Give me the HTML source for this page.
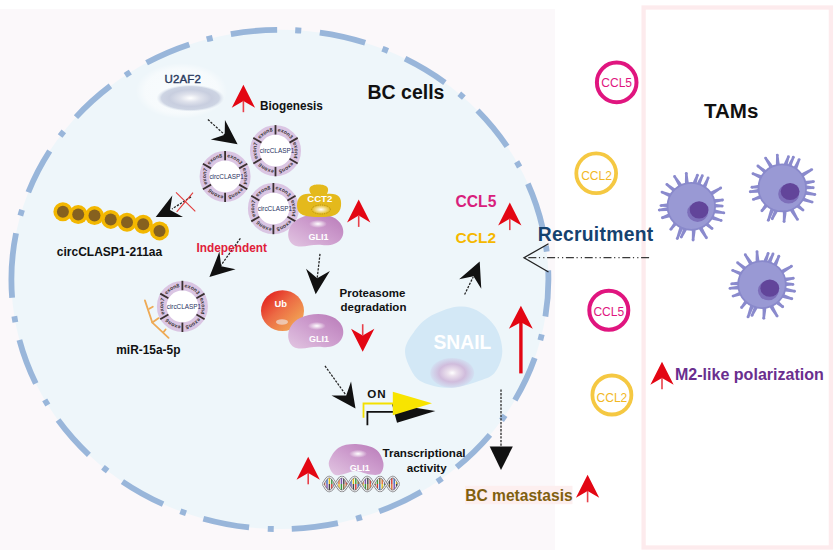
<!DOCTYPE html>
<html><head><meta charset="utf-8">
<style>
html,body{margin:0;padding:0;background:#fff;width:837px;height:557px;overflow:hidden}
svg{position:absolute;left:0;top:0;display:block}
text{font-family:"Liberation Sans",sans-serif}
.b{font-weight:bold}
</style></head><body>
<svg width="837" height="557" viewBox="0 0 837 557">
<defs>
  <g id="ra">
    <path d="M0,0 L11.65,23 L0,16.2 L-11.65,23 Z" fill="#e30613"/>
    <line x1="0" y1="16" x2="0" y2="27.5" stroke="#e8404a" stroke-width="1.6"/>
  </g>
  <path id="ba" d="M0,0 L-24.5,-12 L-16,0 L-24.5,12 Z" fill="#111"/>
  <radialGradient id="glowW" cx="50%" cy="50%" r="50%">
    <stop offset="0" stop-color="#fff"/>
    <stop offset="0.3" stop-color="#dfe2ec"/>
    <stop offset="0.62" stop-color="#c8cedf"/>
    <stop offset="0.85" stop-color="#cdd4e3"/>
    <stop offset="1" stop-color="#dde5ef" stop-opacity="0"/>
  </radialGradient>
  <path id="rp" d="M-16.45,9.50 A19.0,19.0 0 1 1 16.45,-9.50 A19.0,19.0 0 1 1 -16.45,9.50"/>
  <g id="ring">
    <circle r="20.7" fill="#fff" stroke="#dac5e3" stroke-width="9.6"/>
    <g stroke="#3a3030" stroke-width="1.8"><line x1="-0.00" y1="-16.20" x2="-0.00" y2="-25.60"/><line x1="14.03" y1="-8.10" x2="22.17" y2="-12.80"/><line x1="14.03" y1="8.10" x2="22.17" y2="12.80"/><line x1="0.00" y1="16.20" x2="0.00" y2="25.60"/><line x1="-14.03" y1="8.10" x2="-22.17" y2="12.80"/><line x1="-14.03" y1="-8.10" x2="-22.17" y2="-12.80"/></g>
    <text font-size="5.3" fill="#3a3436" text-anchor="middle" font-weight="bold"><textPath href="#rp" startOffset="9.95">exon7</textPath><textPath href="#rp" startOffset="29.85">exon8</textPath><textPath href="#rp" startOffset="49.74">exon3</textPath><textPath href="#rp" startOffset="69.64">exon4</textPath><textPath href="#rp" startOffset="89.54">exon5</textPath><textPath href="#rp" startOffset="109.43">exon6</textPath></text>
    <text x="1.5" y="2.3" font-size="6.4" fill="#283060" text-anchor="middle">circCLASP1</text>
  </g>
  <linearGradient id="ubg" x1="0" y1="0" x2="1" y2="1">
    <stop offset="0.1" stop-color="#e3221e"/><stop offset="0.45" stop-color="#ec6a44"/><stop offset="0.75" stop-color="#f09650"/><stop offset="1" stop-color="#f3b46a"/>
  </linearGradient>
  <linearGradient id="glig" x1="0" y1="1" x2="1" y2="0">
    <stop offset="0" stop-color="#e2c6e2"/><stop offset="0.55" stop-color="#cc9acc"/><stop offset="1" stop-color="#b87ab8"/>
  </linearGradient>
  <radialGradient id="hl" cx="50%" cy="50%" r="50%">
    <stop offset="0" stop-color="#fff" stop-opacity="1"/><stop offset="1" stop-color="#fff" stop-opacity="0"/>
  </radialGradient>
  <radialGradient id="nuc" cx="50%" cy="50%" r="50%">
    <stop offset="0" stop-color="#fff"/><stop offset="0.2" stop-color="#ece2ee"/><stop offset="0.6" stop-color="#d0bcdc"/><stop offset="1" stop-color="#d0bedf" stop-opacity="0.2"/>
  </radialGradient>
  <radialGradient id="halo" cx="50%" cy="50%" r="50%">
    <stop offset="0" stop-color="#fff" stop-opacity="0.65"/><stop offset="0.8" stop-color="#fff" stop-opacity="0.5"/><stop offset="1" stop-color="#fff" stop-opacity="0"/>
  </radialGradient>
  <g id="mac">
    <g fill="#8a8acd"><path d="M19.1,1.7 L25.0,1.3 L30.9,1.0 L30.9,-1.5 L24.9,-2.3 L18.9,-2.9 Z"/><circle cx="30.9" cy="-0.2" r="1.45"/><path d="M18.0,6.4 L25.2,7.2 L32.3,7.8 L32.8,5.4 L25.9,3.7 L19.0,1.9 Z"/><circle cx="32.5" cy="6.6" r="1.45"/><path d="M15.4,11.4 L22.2,13.6 L29.3,15.3 L30.4,13.1 L23.9,10.5 L17.6,7.4 Z"/><circle cx="29.8" cy="14.2" r="1.45"/><path d="M10.2,16.2 L14.9,19.8 L19.8,23.1 L21.7,21.4 L17.6,17.4 L13.8,13.3 Z"/><circle cx="20.7" cy="22.2" r="1.45"/><path d="M5.1,18.5 L9.3,25.4 L14.0,32.1 L16.3,31.0 L12.6,23.9 L9.3,16.7 Z"/><circle cx="15.1" cy="31.5" r="1.45"/><path d="M0.1,19.1 L0.6,26.4 L0.5,33.8 L3.0,33.7 L4.1,26.1 L4.6,18.6 Z"/><circle cx="1.8" cy="33.7" r="1.45"/><path d="M-6.7,17.9 L-8.7,24.2 L-11.2,30.4 L-8.8,31.2 L-5.3,25.2 L-2.2,19.0 Z"/><circle cx="-10.0" cy="30.8" r="1.45"/><path d="M-10.2,16.2 L-12.8,23.9 L-15.1,31.8 L-12.8,32.8 L-9.6,25.4 L-6.0,18.2 Z"/><circle cx="-14.0" cy="32.3" r="1.45"/><path d="M-14.7,12.2 L-18.1,17.1 L-21.4,22.1 L-19.5,23.8 L-15.5,19.5 L-11.4,15.4 Z"/><circle cx="-20.4" cy="22.9" r="1.45"/><path d="M-18.4,5.1 L-23.9,7.8 L-29.3,10.3 L-28.4,12.7 L-22.5,11.1 L-16.7,9.4 Z"/><circle cx="-28.9" cy="11.5" r="1.45"/><path d="M-19.1,0.1 L-25.6,1.3 L-32.2,2.5 L-31.9,5.0 L-25.2,4.8 L-18.6,4.6 Z"/><circle cx="-32.0" cy="3.8" r="1.45"/><path d="M-18.8,-3.6 L-24.6,-2.9 L-30.3,-2.0 L-30.4,0.5 L-24.7,0.6 L-19.1,0.9 Z"/><circle cx="-30.3" cy="-0.7" r="1.45"/><path d="M-15.8,-10.8 L-22.2,-13.2 L-28.8,-15.3 L-29.8,-13.1 L-23.8,-10.0 L-17.9,-6.8 Z"/><circle cx="-29.3" cy="-14.2" r="1.45"/><path d="M-12.1,-14.8 L-17.8,-18.9 L-23.5,-22.8 L-25.2,-20.9 L-20.2,-16.3 L-15.3,-11.5 Z"/><circle cx="-24.4" cy="-21.9" r="1.45"/><path d="M-6.6,-18.0 L-11.0,-24.3 L-15.6,-30.4 L-17.8,-29.2 L-14.1,-22.6 L-10.7,-15.9 Z"/><circle cx="-16.7" cy="-29.8" r="1.45"/><path d="M-1.7,-19.1 L-2.9,-26.0 L-3.8,-33.0 L-6.2,-32.6 L-6.4,-25.3 L-6.2,-18.1 Z"/><circle cx="-5.0" cy="-32.8" r="1.45"/><path d="M4.5,-18.6 L5.7,-24.8 L7.3,-30.9 L4.9,-31.4 L2.1,-25.3 L-0.1,-19.1 Z"/><circle cx="6.1" cy="-31.1" r="1.45"/><path d="M7.9,-17.4 L9.9,-23.8 L12.2,-30.2 L9.9,-31.0 L6.6,-25.0 L3.5,-18.8 Z"/><circle cx="11.0" cy="-30.6" r="1.45"/><path d="M12.8,-14.2 L15.6,-20.8 L17.9,-27.7 L15.8,-28.9 L12.6,-22.8 L9.0,-16.9 Z"/><circle cx="16.8" cy="-28.3" r="1.45"/><path d="M17.3,-8.3 L23.6,-12.8 L30.0,-17.2 L28.7,-19.3 L21.7,-15.8 L14.8,-12.2 Z"/><circle cx="29.4" cy="-18.3" r="1.45"/><path d="M19.0,-2.1 L25.2,-3.7 L31.5,-5.1 L31.0,-7.6 L24.5,-7.2 L18.0,-6.6 Z"/><circle cx="31.2" cy="-6.3" r="1.45"/></g>
    <ellipse rx="23.8" ry="23.5" fill="#9999d4" stroke="#8989cb" stroke-width="1.8"/>
    <ellipse cx="6.3" cy="6" rx="10.4" ry="9.6" fill="#7d6fba"/>
    <ellipse cx="7.8" cy="3.6" rx="9.4" ry="8.6" fill="#62459a"/>
  </g>
</defs>

<!-- panel -->
<rect x="0" y="9" width="555" height="541" fill="#fbf8fa"/>
<!-- big cell -->
<path d="M11.4,279.46 A268.5,249.6 0 0 1 548.4,279.46 A268.5,249.6 0 0 1 11.4,279.46 Z" fill="#eef6fa" stroke="#99b6da" stroke-width="5.8" stroke-dasharray="46.5 18.2 6 18.7"/>

<!-- TAMs box -->
<rect x="643.6" y="7.5" width="187.3" height="540" fill="none" stroke="#fdebed" stroke-width="4.3"/>

<use href="#ring" x="275.5" y="150.7"/>
<use href="#ring" x="225.1" y="176.5"/>
<use href="#ring" x="273.4" y="208.6"/>
<use href="#ring" x="182.4" y="306.4"/>
<circle cx="62.9" cy="211.8" r="9.5" fill="#f3b700"/><circle cx="62.9" cy="211.8" r="6" fill="#86611f"/>
<circle cx="78.2" cy="214.6" r="9.5" fill="#f3b700"/><circle cx="78.2" cy="214.6" r="6" fill="#86611f"/>
<circle cx="94.5" cy="215.6" r="9.5" fill="#f3b700"/><circle cx="94.5" cy="215.6" r="6" fill="#86611f"/>
<circle cx="110.7" cy="219.4" r="9.5" fill="#f3b700"/><circle cx="110.7" cy="219.4" r="6" fill="#86611f"/>
<circle cx="127.0" cy="222.3" r="9.5" fill="#f3b700"/><circle cx="127.0" cy="222.3" r="6" fill="#86611f"/>
<circle cx="143.2" cy="224.2" r="9.5" fill="#f3b700"/><circle cx="143.2" cy="224.2" r="6" fill="#86611f"/>
<circle cx="159.5" cy="230.9" r="9.5" fill="#f3b700"/><circle cx="159.5" cy="230.9" r="6" fill="#86611f"/>
<line x1="207.9" y1="119.5" x2="225.2" y2="135.2" stroke="#222" stroke-width="1.25" stroke-dasharray="2.3 1.3"/><use href="#ba" transform="translate(237.6 144.3) rotate(36.3)"/>
<line x1="191.0" y1="196.9" x2="172.0" y2="209.0" stroke="#222" stroke-width="1.25" stroke-dasharray="2.3 1.3"/><use href="#ba" transform="translate(155.7 217.1) rotate(153.6)"/>
<line x1="240.4" y1="238.3" x2="218.6" y2="268.6" stroke="#222" stroke-width="1.25" stroke-dasharray="2.3 1.3"/><use href="#ba" transform="translate(209.4 277.0) rotate(137.6)"/>
<line x1="320.0" y1="253.9" x2="317.2" y2="278.0" stroke="#222" stroke-width="1.25" stroke-dasharray="2.3 1.3"/><use href="#ba" transform="translate(315.7 294.2) rotate(95.3)"/>
<line x1="325.0" y1="365.9" x2="346.0" y2="395.2" stroke="#222" stroke-width="1.25" stroke-dasharray="2.3 1.3"/><use href="#ba" transform="translate(355.5 408.5) rotate(54.5)"/>
<line x1="464.6" y1="294.6" x2="473.2" y2="276.9" stroke="#222" stroke-width="1.25" stroke-dasharray="2.3 1.3"/><use href="#ba" transform="translate(479.7 261.4) rotate(-67.2)"/>
<line x1="501" y1="389.5" x2="501" y2="447" stroke="#222" stroke-width="1.25" stroke-dasharray="2.3 1.3"/><path d="M489.7,446.6 L512.8,446.6 L501,470 Z" fill="#111"/>
<g stroke="#e23a3a" stroke-width="1.1"><line x1="176" y1="192.3" x2="195.3" y2="211.4"/><line x1="193" y1="192.6" x2="176.7" y2="211.8"/></g>
<g stroke="#eeaa55" stroke-width="1.8" fill="none" stroke-linecap="round"><polyline points="144.9,300.4 152.3,322.6 168.6,337.9"/><line x1="149.3" y1="308.8" x2="152.8" y2="306.8"/><line x1="152.3" y1="322.6" x2="158.7" y2="318.1"/><line x1="163.6" y1="332" x2="165.6" y2="329.5"/></g>
<use href="#ra" x="358.7" y="199.4"/>
<use href="#ra" transform="translate(362.7 351.7) rotate(180)"/>
<use href="#ra" x="308.2" y="456.8"/>
<path d="M520.9,305.8 L532.8,328.8 L520.9,322.3 L508.9,328.8 Z" fill="#e30613"/><line x1="520.9" y1="322" x2="520.9" y2="373.4" stroke="#e30613" stroke-width="3.4"/>
<path d="M367.4,425.3 V411.9 H396" fill="none" stroke="#111" stroke-width="1.8"/><path d="M392,404 L435.4,411 L397,422.7 Z" fill="#111"/>
<path d="M363.5,417.7 V403.5 H394" fill="none" stroke="#f3e000" stroke-width="1.8"/><path d="M392.8,391.8 L432,403.2 L392.8,415.2 Z" fill="#f8e400"/>
<ellipse cx="181.5" cy="91" rx="46" ry="28" fill="url(#halo)"/>
<ellipse cx="282.5" cy="310.7" rx="21.5" ry="20.4" fill="url(#ubg)"/><ellipse cx="282" cy="322" rx="6" ry="2.7" fill="#eee0d8" opacity="0.7"/>
<text class="b" x="280.7" y="306.6" font-size="9.4" fill="#fff" text-anchor="middle">Ub</text>
<path d="M300,318 C315,311 336,313 342,326 C347,338 337,349 322,347 C311,346 305,350 296,348 C286,345 284,326 300,318 Z" fill="url(#glig)"/><ellipse cx="316.8" cy="325.9" rx="9" ry="4" fill="url(#hl)"/>
<text class="b" x="319" y="342.2" font-size="9" fill="#fff" text-anchor="middle">GLI1</text>
<path d="M300,218 C315,211 336,213 342,226 C347,238 337,247 322,245 C311,244 305,248 296,246 C286,243 284,226 300,218 Z" fill="url(#glig)"/><ellipse cx="318" cy="223.9" rx="9" ry="4" fill="url(#hl)"/>
<text class="b" x="318.4" y="240.4" font-size="9" fill="#fff" text-anchor="middle">GLI1</text>
<path d="M311,194 C306,186 314,184.5 318,184.5 C324,184.5 331,186 327,194 C338,193 342,197 341,206 C340,215 333,217 320,217 C305,217 297,215 297,206 C297,197 302,193 311,194 Z" fill="#e4b91c"/>
<ellipse cx="321" cy="209.5" rx="9.3" ry="4.5" fill="url(#hl)" stroke="#9a7a10" stroke-width="0.7" stroke-dasharray="0.8 1"/>
<text class="b" x="319.8" y="202.3" font-size="9.6" fill="#fff" text-anchor="middle">CCT2</text>
<path d="M356.0,444.1 C362.2,444.4 371.1,446.1 375.6,449.2 C380.2,452.3 382.5,458.6 383.3,462.6 C384.1,466.7 382.7,471.5 380.5,473.5 C378.3,475.5 374.1,474.9 370.0,474.5 C365.9,474.1 360.3,471.1 356.0,471.0 C351.7,470.9 347.4,473.3 344.0,474.0 C340.6,474.7 337.8,475.8 335.5,475.0 C333.2,474.2 331.3,471.9 330.3,469.5 C329.3,467.1 327.9,464.2 329.3,460.6 C330.7,457.0 334.2,450.4 338.6,447.7 C343.1,444.9 349.8,443.9 356.0,444.1 Z" fill="url(#glig)"/><ellipse cx="358.1" cy="453.8" rx="9" ry="4" fill="url(#hl)"/>
<text class="b" x="359.7" y="470.9" font-size="9" fill="#fff" text-anchor="middle">GLI1</text>
<g><line x1="324.6" y1="481.3" x2="324.6" y2="484.0" stroke="#d83a30" stroke-width="1.4"/><line x1="324.6" y1="484.0" x2="324.6" y2="486.7" stroke="#e07030" stroke-width="1.4"/><line x1="327.0" y1="478.1" x2="327.0" y2="484.0" stroke="#3a6cc0" stroke-width="1.4"/><line x1="327.0" y1="484.0" x2="327.0" y2="489.9" stroke="#8050b0" stroke-width="1.4"/><line x1="329.4" y1="477.0" x2="329.4" y2="484.0" stroke="#e8c020" stroke-width="1.4"/><line x1="329.4" y1="484.0" x2="329.4" y2="491.0" stroke="#444" stroke-width="1.4"/><line x1="331.8" y1="478.3" x2="331.8" y2="484.0" stroke="#3a9a40" stroke-width="1.4"/><line x1="331.8" y1="484.0" x2="331.8" y2="489.7" stroke="#d83a30" stroke-width="1.4"/><line x1="334.2" y1="481.5" x2="334.2" y2="484.0" stroke="#8a6a30" stroke-width="1.4"/><line x1="334.2" y1="484.0" x2="334.2" y2="486.5" stroke="#3a6cc0" stroke-width="1.4"/><line x1="339.0" y1="478.8" x2="339.0" y2="484.0" stroke="#e07030" stroke-width="1.4"/><line x1="339.0" y1="484.0" x2="339.0" y2="489.2" stroke="#e8c020" stroke-width="1.4"/><line x1="341.4" y1="477.1" x2="341.4" y2="484.0" stroke="#8050b0" stroke-width="1.4"/><line x1="341.4" y1="484.0" x2="341.4" y2="490.9" stroke="#3a9a40" stroke-width="1.4"/><line x1="343.8" y1="477.7" x2="343.8" y2="484.0" stroke="#444" stroke-width="1.4"/><line x1="343.8" y1="484.0" x2="343.8" y2="490.3" stroke="#8a6a30" stroke-width="1.4"/><line x1="346.2" y1="480.5" x2="346.2" y2="484.0" stroke="#d83a30" stroke-width="1.4"/><line x1="346.2" y1="484.0" x2="346.2" y2="487.5" stroke="#e07030" stroke-width="1.4"/><line x1="351.0" y1="479.7" x2="351.0" y2="484.0" stroke="#3a6cc0" stroke-width="1.4"/><line x1="351.0" y1="484.0" x2="351.0" y2="488.3" stroke="#8050b0" stroke-width="1.4"/><line x1="353.4" y1="477.3" x2="353.4" y2="484.0" stroke="#e8c020" stroke-width="1.4"/><line x1="353.4" y1="484.0" x2="353.4" y2="490.7" stroke="#444" stroke-width="1.4"/><line x1="355.8" y1="477.3" x2="355.8" y2="484.0" stroke="#3a9a40" stroke-width="1.4"/><line x1="355.8" y1="484.0" x2="355.8" y2="490.7" stroke="#d83a30" stroke-width="1.4"/><line x1="358.2" y1="479.5" x2="358.2" y2="484.0" stroke="#8a6a30" stroke-width="1.4"/><line x1="358.2" y1="484.0" x2="358.2" y2="488.5" stroke="#3a6cc0" stroke-width="1.4"/><line x1="363.0" y1="480.7" x2="363.0" y2="484.0" stroke="#e07030" stroke-width="1.4"/><line x1="363.0" y1="484.0" x2="363.0" y2="487.3" stroke="#e8c020" stroke-width="1.4"/><line x1="365.4" y1="477.8" x2="365.4" y2="484.0" stroke="#8050b0" stroke-width="1.4"/><line x1="365.4" y1="484.0" x2="365.4" y2="490.2" stroke="#3a9a40" stroke-width="1.4"/><line x1="367.8" y1="477.0" x2="367.8" y2="484.0" stroke="#444" stroke-width="1.4"/><line x1="367.8" y1="484.0" x2="367.8" y2="491.0" stroke="#8a6a30" stroke-width="1.4"/><line x1="370.2" y1="478.7" x2="370.2" y2="484.0" stroke="#d83a30" stroke-width="1.4"/><line x1="370.2" y1="484.0" x2="370.2" y2="489.3" stroke="#e07030" stroke-width="1.4"/><line x1="372.6" y1="482.2" x2="372.6" y2="484.0" stroke="#3a6cc0" stroke-width="1.4"/><line x1="372.6" y1="484.0" x2="372.6" y2="485.8" stroke="#8050b0" stroke-width="1.4"/><line x1="375.0" y1="481.7" x2="375.0" y2="484.0" stroke="#e8c020" stroke-width="1.4"/><line x1="375.0" y1="484.0" x2="375.0" y2="486.3" stroke="#444" stroke-width="1.4"/><line x1="377.4" y1="478.4" x2="377.4" y2="484.0" stroke="#3a9a40" stroke-width="1.4"/><line x1="377.4" y1="484.0" x2="377.4" y2="489.6" stroke="#d83a30" stroke-width="1.4"/><line x1="379.8" y1="477.0" x2="379.8" y2="484.0" stroke="#8a6a30" stroke-width="1.4"/><line x1="379.8" y1="484.0" x2="379.8" y2="491.0" stroke="#3a6cc0" stroke-width="1.4"/><line x1="382.2" y1="478.0" x2="382.2" y2="484.0" stroke="#e07030" stroke-width="1.4"/><line x1="382.2" y1="484.0" x2="382.2" y2="490.0" stroke="#e8c020" stroke-width="1.4"/><line x1="384.6" y1="481.1" x2="384.6" y2="484.0" stroke="#8050b0" stroke-width="1.4"/><line x1="384.6" y1="484.0" x2="384.6" y2="486.9" stroke="#3a9a40" stroke-width="1.4"/><line x1="389.4" y1="479.2" x2="389.4" y2="484.0" stroke="#444" stroke-width="1.4"/><line x1="389.4" y1="484.0" x2="389.4" y2="488.8" stroke="#8a6a30" stroke-width="1.4"/><line x1="391.8" y1="477.2" x2="391.8" y2="484.0" stroke="#d83a30" stroke-width="1.4"/><line x1="391.8" y1="484.0" x2="391.8" y2="490.8" stroke="#e07030" stroke-width="1.4"/><line x1="394.2" y1="477.5" x2="394.2" y2="484.0" stroke="#3a6cc0" stroke-width="1.4"/><line x1="394.2" y1="484.0" x2="394.2" y2="490.5" stroke="#8050b0" stroke-width="1.4"/><line x1="396.6" y1="480.1" x2="396.6" y2="484.0" stroke="#e8c020" stroke-width="1.4"/><line x1="396.6" y1="484.0" x2="396.6" y2="487.9" stroke="#444" stroke-width="1.4"/><path d="M323.0,484.0 323.5,484.9 324.0,485.7 324.5,486.5 325.0,487.3 325.5,488.1 326.0,488.7 326.5,489.3 327.0,489.9 327.5,490.3 328.0,490.6 328.5,490.9 329.0,491.0 329.5,491.0 330.0,490.9 330.5,490.7 331.0,490.4 331.5,490.0 332.0,489.5 332.5,488.9 333.0,488.3 333.5,487.6 334.0,486.8 334.5,486.0 335.0,485.2 335.5,484.3 336.0,483.4 336.5,482.6 337.0,481.7 337.5,480.9 338.0,480.2 338.5,479.5 339.0,478.8 339.5,478.3 340.0,477.8 340.5,477.5 341.0,477.2 341.5,477.1 342.0,477.0 342.5,477.1 343.0,477.2 343.5,477.5 344.0,477.8 344.5,478.3 345.0,478.8 345.5,479.5 346.0,480.2 346.5,480.9 347.0,481.7 347.5,482.6 348.0,483.4 348.5,484.3 349.0,485.2 349.5,486.0 350.0,486.8 350.5,487.6 351.0,488.3 351.5,488.9 352.0,489.5 352.5,490.0 353.0,490.4 353.5,490.7 354.0,490.9 354.5,491.0 355.0,491.0 355.5,490.9 356.0,490.6 356.5,490.3 357.0,489.9 357.5,489.3 358.0,488.7 358.5,488.1 359.0,487.3 359.5,486.5 360.0,485.7 360.5,484.9 361.0,484.0 361.5,483.1 362.0,482.3 362.5,481.5 363.0,480.7 363.5,479.9 364.0,479.3 364.5,478.7 365.0,478.1 365.5,477.7 366.0,477.4 366.5,477.1 367.0,477.0 367.5,477.0 368.0,477.1 368.5,477.3 369.0,477.6 369.5,478.0 370.0,478.5 370.5,479.1 371.0,479.7 371.5,480.4 372.0,481.2 372.5,482.0 373.0,482.8 373.5,483.7 374.0,484.6 374.5,485.4 375.0,486.3 375.5,487.1 376.0,487.8 376.5,488.5 377.0,489.2 377.5,489.7 378.0,490.2 378.5,490.5 379.0,490.8 379.5,490.9 380.0,491.0 380.5,490.9 381.0,490.8 381.5,490.5 382.0,490.2 382.5,489.7 383.0,489.2 383.5,488.5 384.0,487.8 384.5,487.1 385.0,486.3 385.5,485.4 386.0,484.6 386.5,483.7 387.0,482.8 387.5,482.0 388.0,481.2 388.5,480.4 389.0,479.7 389.5,479.1 390.0,478.5 390.5,478.0 391.0,477.6 391.5,477.3 392.0,477.1 392.5,477.0 393.0,477.0 393.5,477.1 394.0,477.4 394.5,477.7 395.0,478.1 395.5,478.7 396.0,479.3 396.5,479.9 397.0,480.7 397.5,481.5 398.0,482.3 398.5,483.1 399.0,484.0" fill="none" stroke="#707074" stroke-width="2.3"/><path d="M323.0,484.0 323.5,484.9 324.0,485.7 324.5,486.5 325.0,487.3 325.5,488.1 326.0,488.7 326.5,489.3 327.0,489.9 327.5,490.3 328.0,490.6 328.5,490.9 329.0,491.0 329.5,491.0 330.0,490.9 330.5,490.7 331.0,490.4 331.5,490.0 332.0,489.5 332.5,488.9 333.0,488.3 333.5,487.6 334.0,486.8 334.5,486.0 335.0,485.2 335.5,484.3 336.0,483.4 336.5,482.6 337.0,481.7 337.5,480.9 338.0,480.2 338.5,479.5 339.0,478.8 339.5,478.3 340.0,477.8 340.5,477.5 341.0,477.2 341.5,477.1 342.0,477.0 342.5,477.1 343.0,477.2 343.5,477.5 344.0,477.8 344.5,478.3 345.0,478.8 345.5,479.5 346.0,480.2 346.5,480.9 347.0,481.7 347.5,482.6 348.0,483.4 348.5,484.3 349.0,485.2 349.5,486.0 350.0,486.8 350.5,487.6 351.0,488.3 351.5,488.9 352.0,489.5 352.5,490.0 353.0,490.4 353.5,490.7 354.0,490.9 354.5,491.0 355.0,491.0 355.5,490.9 356.0,490.6 356.5,490.3 357.0,489.9 357.5,489.3 358.0,488.7 358.5,488.1 359.0,487.3 359.5,486.5 360.0,485.7 360.5,484.9 361.0,484.0 361.5,483.1 362.0,482.3 362.5,481.5 363.0,480.7 363.5,479.9 364.0,479.3 364.5,478.7 365.0,478.1 365.5,477.7 366.0,477.4 366.5,477.1 367.0,477.0 367.5,477.0 368.0,477.1 368.5,477.3 369.0,477.6 369.5,478.0 370.0,478.5 370.5,479.1 371.0,479.7 371.5,480.4 372.0,481.2 372.5,482.0 373.0,482.8 373.5,483.7 374.0,484.6 374.5,485.4 375.0,486.3 375.5,487.1 376.0,487.8 376.5,488.5 377.0,489.2 377.5,489.7 378.0,490.2 378.5,490.5 379.0,490.8 379.5,490.9 380.0,491.0 380.5,490.9 381.0,490.8 381.5,490.5 382.0,490.2 382.5,489.7 383.0,489.2 383.5,488.5 384.0,487.8 384.5,487.1 385.0,486.3 385.5,485.4 386.0,484.6 386.5,483.7 387.0,482.8 387.5,482.0 388.0,481.2 388.5,480.4 389.0,479.7 389.5,479.1 390.0,478.5 390.5,478.0 391.0,477.6 391.5,477.3 392.0,477.1 392.5,477.0 393.0,477.0 393.5,477.1 394.0,477.4 394.5,477.7 395.0,478.1 395.5,478.7 396.0,479.3 396.5,479.9 397.0,480.7 397.5,481.5 398.0,482.3 398.5,483.1 399.0,484.0" fill="none" stroke="#f6f6f8" stroke-width="1.1"/><path d="M323.0,484.0 323.5,483.1 324.0,482.3 324.5,481.5 325.0,480.7 325.5,479.9 326.0,479.3 326.5,478.7 327.0,478.1 327.5,477.7 328.0,477.4 328.5,477.1 329.0,477.0 329.5,477.0 330.0,477.1 330.5,477.3 331.0,477.6 331.5,478.0 332.0,478.5 332.5,479.1 333.0,479.7 333.5,480.4 334.0,481.2 334.5,482.0 335.0,482.8 335.5,483.7 336.0,484.6 336.5,485.4 337.0,486.3 337.5,487.1 338.0,487.8 338.5,488.5 339.0,489.2 339.5,489.7 340.0,490.2 340.5,490.5 341.0,490.8 341.5,490.9 342.0,491.0 342.5,490.9 343.0,490.8 343.5,490.5 344.0,490.2 344.5,489.7 345.0,489.2 345.5,488.5 346.0,487.8 346.5,487.1 347.0,486.3 347.5,485.4 348.0,484.6 348.5,483.7 349.0,482.8 349.5,482.0 350.0,481.2 350.5,480.4 351.0,479.7 351.5,479.1 352.0,478.5 352.5,478.0 353.0,477.6 353.5,477.3 354.0,477.1 354.5,477.0 355.0,477.0 355.5,477.1 356.0,477.4 356.5,477.7 357.0,478.1 357.5,478.7 358.0,479.3 358.5,479.9 359.0,480.7 359.5,481.5 360.0,482.3 360.5,483.1 361.0,484.0 361.5,484.9 362.0,485.7 362.5,486.5 363.0,487.3 363.5,488.1 364.0,488.7 364.5,489.3 365.0,489.9 365.5,490.3 366.0,490.6 366.5,490.9 367.0,491.0 367.5,491.0 368.0,490.9 368.5,490.7 369.0,490.4 369.5,490.0 370.0,489.5 370.5,488.9 371.0,488.3 371.5,487.6 372.0,486.8 372.5,486.0 373.0,485.2 373.5,484.3 374.0,483.4 374.5,482.6 375.0,481.7 375.5,480.9 376.0,480.2 376.5,479.5 377.0,478.8 377.5,478.3 378.0,477.8 378.5,477.5 379.0,477.2 379.5,477.1 380.0,477.0 380.5,477.1 381.0,477.2 381.5,477.5 382.0,477.8 382.5,478.3 383.0,478.8 383.5,479.5 384.0,480.2 384.5,480.9 385.0,481.7 385.5,482.6 386.0,483.4 386.5,484.3 387.0,485.2 387.5,486.0 388.0,486.8 388.5,487.6 389.0,488.3 389.5,488.9 390.0,489.5 390.5,490.0 391.0,490.4 391.5,490.7 392.0,490.9 392.5,491.0 393.0,491.0 393.5,490.9 394.0,490.6 394.5,490.3 395.0,489.9 395.5,489.3 396.0,488.7 396.5,488.1 397.0,487.3 397.5,486.5 398.0,485.7 398.5,484.9 399.0,484.0" fill="none" stroke="#707074" stroke-width="2.3"/><path d="M323.0,484.0 323.5,483.1 324.0,482.3 324.5,481.5 325.0,480.7 325.5,479.9 326.0,479.3 326.5,478.7 327.0,478.1 327.5,477.7 328.0,477.4 328.5,477.1 329.0,477.0 329.5,477.0 330.0,477.1 330.5,477.3 331.0,477.6 331.5,478.0 332.0,478.5 332.5,479.1 333.0,479.7 333.5,480.4 334.0,481.2 334.5,482.0 335.0,482.8 335.5,483.7 336.0,484.6 336.5,485.4 337.0,486.3 337.5,487.1 338.0,487.8 338.5,488.5 339.0,489.2 339.5,489.7 340.0,490.2 340.5,490.5 341.0,490.8 341.5,490.9 342.0,491.0 342.5,490.9 343.0,490.8 343.5,490.5 344.0,490.2 344.5,489.7 345.0,489.2 345.5,488.5 346.0,487.8 346.5,487.1 347.0,486.3 347.5,485.4 348.0,484.6 348.5,483.7 349.0,482.8 349.5,482.0 350.0,481.2 350.5,480.4 351.0,479.7 351.5,479.1 352.0,478.5 352.5,478.0 353.0,477.6 353.5,477.3 354.0,477.1 354.5,477.0 355.0,477.0 355.5,477.1 356.0,477.4 356.5,477.7 357.0,478.1 357.5,478.7 358.0,479.3 358.5,479.9 359.0,480.7 359.5,481.5 360.0,482.3 360.5,483.1 361.0,484.0 361.5,484.9 362.0,485.7 362.5,486.5 363.0,487.3 363.5,488.1 364.0,488.7 364.5,489.3 365.0,489.9 365.5,490.3 366.0,490.6 366.5,490.9 367.0,491.0 367.5,491.0 368.0,490.9 368.5,490.7 369.0,490.4 369.5,490.0 370.0,489.5 370.5,488.9 371.0,488.3 371.5,487.6 372.0,486.8 372.5,486.0 373.0,485.2 373.5,484.3 374.0,483.4 374.5,482.6 375.0,481.7 375.5,480.9 376.0,480.2 376.5,479.5 377.0,478.8 377.5,478.3 378.0,477.8 378.5,477.5 379.0,477.2 379.5,477.1 380.0,477.0 380.5,477.1 381.0,477.2 381.5,477.5 382.0,477.8 382.5,478.3 383.0,478.8 383.5,479.5 384.0,480.2 384.5,480.9 385.0,481.7 385.5,482.6 386.0,483.4 386.5,484.3 387.0,485.2 387.5,486.0 388.0,486.8 388.5,487.6 389.0,488.3 389.5,488.9 390.0,489.5 390.5,490.0 391.0,490.4 391.5,490.7 392.0,490.9 392.5,491.0 393.0,491.0 393.5,490.9 394.0,490.6 394.5,490.3 395.0,489.9 395.5,489.3 396.0,488.7 396.5,488.1 397.0,487.3 397.5,486.5 398.0,485.7 398.5,484.9 399.0,484.0" fill="none" stroke="#f6f6f8" stroke-width="1.1"/></g>
<path d="M456.3,306.8 C464.2,305.7 470.2,306.8 476.7,310.2 C483.2,313.6 491.2,320.5 495.5,327.3 C499.8,334.1 502.3,343.8 502.3,351.2 C502.3,358.6 498.9,366.8 495.5,371.6 C492.1,376.4 489.3,377.4 481.9,380.1 C474.5,382.8 461.1,387.5 451.2,387.8 C441.2,388.1 429.0,385.2 422.2,381.9 C415.4,378.6 413.0,373.6 410.2,368.2 C407.4,362.8 404.5,355.5 405.1,349.5 C405.7,343.5 409.6,337.8 413.6,332.4 C417.6,327.0 421.9,321.3 429.0,317.0 C436.1,312.7 448.4,307.9 456.3,306.8 Z" fill="#d3e8f6"/>
<ellipse cx="452.2" cy="372.9" rx="22" ry="15" fill="url(#nuc)"/>
<text class="b" x="462.4" y="348.8" font-size="19.88" fill="#fff" text-anchor="middle" textLength="57.84" lengthAdjust="spacingAndGlyphs">SNAIL</text>
<polyline points="548.5,243.7 524,257.7 548.5,272" fill="none" stroke="#222" stroke-width="1.3"/><line x1="524" y1="257.7" x2="649.5" y2="257.7" stroke="#3a3a3a" stroke-width="1.3" stroke-dasharray="8 2.6 1.2 3.1 1.2 2.7" stroke-dashoffset="14.5"/>
<use href="#mac" x="691.3" y="206.3"/><use href="#mac" x="782.3" y="187.9"/><use href="#mac" x="762" y="284.6"/>
<!-- texts -->
<text x="164.4" y="83.4" font-size="11.5" fill="#2a3a5e" stroke="#2a3a5e" stroke-width="0.4" letter-spacing="0.2">U2AF2</text>
<ellipse cx="190.4" cy="98.1" rx="34" ry="13.5" fill="url(#glowW)"/>
<text class="b" x="260" y="109.8" font-size="12.39" fill="#111" textLength="62.94" lengthAdjust="spacingAndGlyphs">Biogenesis</text>
<use href="#ra" x="243.4" y="84.7"/>
<text class="b" x="367.5" y="98.9" font-size="20.09" fill="#111" textLength="76.95" lengthAdjust="spacingAndGlyphs">BC cells</text>

<text class="b" x="56.8" y="255.7" font-size="11.90" fill="#111" textLength="105.41" lengthAdjust="spacingAndGlyphs">circCLASP1-211aa</text>
<text class="b" x="196.5" y="251.6" font-size="11.85" fill="#e0203a" textLength="70.41" lengthAdjust="spacingAndGlyphs">Independent</text>
<text class="b" x="116.3" y="354" font-size="11.90" fill="#111" textLength="64.11" lengthAdjust="spacingAndGlyphs">miR-15a-5p</text>
<text class="b" x="372.5" y="297" font-size="11.50" fill="#111" text-anchor="middle" textLength="65.84" lengthAdjust="spacingAndGlyphs">Proteasome</text>
<text class="b" x="373.5" y="311" font-size="11.50" fill="#111" text-anchor="middle" textLength="65.81" lengthAdjust="spacingAndGlyphs">degradation</text>
<text class="b" x="367.3" y="397.7" font-size="11.6" letter-spacing="1" fill="#111">ON</text>
<text class="b" x="424" y="457.2" font-size="11.60" fill="#111" text-anchor="middle" textLength="83.11" lengthAdjust="spacingAndGlyphs">Transcriptional</text>
<text class="b" x="426.7" y="471.5" font-size="11.60" fill="#111" text-anchor="middle" textLength="39.97" lengthAdjust="spacingAndGlyphs">activity</text>

<text class="b" x="455.6" y="206.5" font-size="15.6" letter-spacing="0" fill="#d8207c">CCL5</text>
<text class="b" x="455.6" y="242.9" font-size="15.5" letter-spacing="0" fill="#f5b800">CCL2</text>
<use href="#ra" x="509.8" y="202.6"/>

<rect x="465" y="485.8" width="107.5" height="18.4" fill="#fdefef"/>
<text class="b" x="465.2" y="500.8" font-size="16.38" fill="#80600f" textLength="107.48" lengthAdjust="spacingAndGlyphs">BC metastasis</text>
<use href="#ra" x="587.6" y="474.8"/>

<text class="b" x="537.7" y="240.6" font-size="19.3" letter-spacing="0.3" fill="#15426f">Recruitment</text>
<text class="b" x="704" y="117.7" font-size="20.59" fill="#111" textLength="54.39" lengthAdjust="spacingAndGlyphs">TAMs</text>
<text class="b" x="675" y="379.5" font-size="16.32" fill="#6a2e8e" textLength="148.83" lengthAdjust="spacingAndGlyphs">M2-like polarization</text>
<use href="#ra" x="662" y="361.8"/>

<!-- CCL circles -->
<circle cx="616.7" cy="82.4" r="19.8" fill="#fff" stroke="#e0157f" stroke-width="4"/>
<text x="616.7" y="86.8" font-size="12" fill="#e0157f" text-anchor="middle">CCL5</text>
<circle cx="596.2" cy="173.3" r="19.9" fill="#fff" stroke="#f5c842" stroke-width="3.8"/>
<text x="596.5" y="179.5" font-size="12" fill="#f2b824" text-anchor="middle">CCL2</text>
<circle cx="608.8" cy="310.2" r="19.5" fill="#fff" stroke="#e0157f" stroke-width="4"/>
<text x="608.8" y="316.4" font-size="12" fill="#e0157f" text-anchor="middle">CCL5</text>
<circle cx="611.9" cy="395" r="19.5" fill="#fff" stroke="#f5c842" stroke-width="3.8"/>
<text x="611.9" y="401.6" font-size="12" fill="#f2b824" text-anchor="middle">CCL2</text>

</svg>
</body></html>
